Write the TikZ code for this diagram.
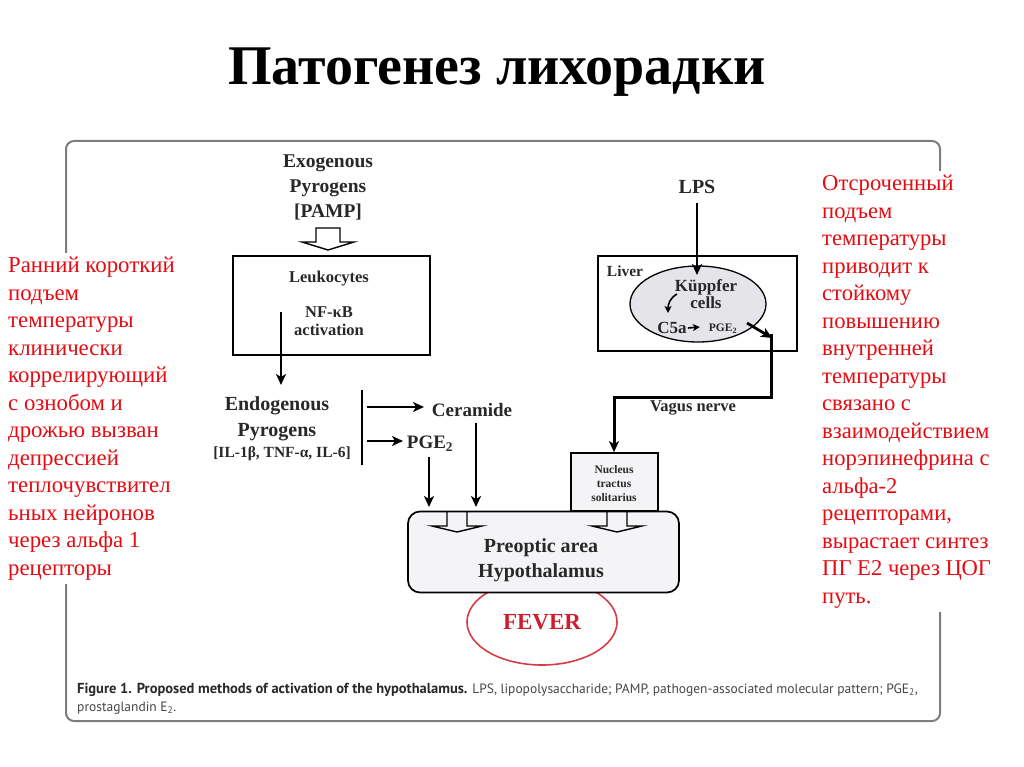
\documentclass[tikz,border=0pt]{standalone}
\usepackage{fontspec}
\setmainfont{Liberation Serif}
\newfontfamily\capfont{PT Sans}
\usetikzlibrary{arrows.meta,shapes.geometric}
\definecolor{ink}{RGB}{40,40,40}
\definecolor{redtxt}{RGB}{228,12,18}
\definecolor{fevred}{RGB}{205,30,45}
\definecolor{fevline}{RGB}{215,60,70}
\definecolor{framegray}{RGB}{125,125,125}
\definecolor{boxfill}{RGB}{244,244,247}
\definecolor{kupfill}{RGB}{228,228,233}
\definecolor{capgray}{RGB}{70,70,70}
\begin{document}
\begin{tikzpicture}[x=1pt,y=-1pt,
  txt/.style={inner sep=0pt,text=ink,align=center},
  arr/.style={draw=black,line width=2.8pt,-{Stealth[length=11pt,width=10pt,inset=3pt]}},
  thinarr/.style={draw=black,line width=1.6pt,-{Stealth[length=7pt,width=7pt,inset=2pt]}},
  boxline/.style={draw=black,line width=1.7pt,inner sep=0pt},
  hollow/.style={draw=black,line width=1.4pt,line join=miter},
  redblock/.style={anchor=north west,inner sep=4pt,align=left,text=redtxt,fill=white}]
\useasboundingbox (0,0) rectangle (1024,767);
% title
\node[inner sep=0pt,anchor=base,font=\bfseries\fontsize{56}{60}\selectfont] (title) at (497,85) {Патогенез лихорадки};
% frame
\draw[draw=framegray,line width=2pt,rounded corners=8pt] (66,141) rectangle (940,721);
% exogenous
\node[txt,font=\bfseries\fontsize{19.5}{25}\selectfont] (exo) at (328,187) {Exogenous\\Pyrogens\\{[PAMP]}};
\draw[hollow] (316,228) -- (316,242) -- (302,242) -- (328,250) -- (354,242) -- (340,242) -- (340,228) -- cycle;
% leukocytes
\node[boxline,minimum width=197pt,minimum height=99pt] (leukbox) at (331.5,305.5) {};
\node[txt,font=\bfseries\fontsize{16.5}{20}\selectfont] (leuk) at (329,279) {Leukocytes};
\node[txt,font=\bfseries\fontsize{16.5}{18}\selectfont] (nfkb) at (329,321) {NF-κB\\activation};
\coordinate (leukout) at (281,312);
\coordinate (endoin) at (281,385);
\draw[arr] (leukout) -- (endoin);
% endogenous
\node[txt,font=\bfseries\fontsize{20}{26}\selectfont] (endo) at (277,419) {Endogenous\\Pyrogens};
\node[txt,font=\bfseries\fontsize{15.5}{18}\selectfont] (endolist) at (282,454) {[IL-1β, TNF-α, IL-6]};
\coordinate (bartop) at (362,390);
\coordinate (barbot) at (362,465);
\draw[line width=2.2pt] (bartop) -- (barbot);
\node[txt,font=\bfseries\fontsize{19}{22}\selectfont] (cer) at (472,410) {Ceramide};
\node[txt,font=\bfseries\fontsize{19}{22}\selectfont] (pge) at (430,444) {PGE\textsubscript{2}};
\coordinate (b1) at (367,407);
\coordinate (b2) at (367,441);
\draw[arr] (b1) -- (424,407);
\draw[arr] (b2) -- (403,441);
% preoptic area
\node[fevline,draw,line width=1.6pt,ellipse,minimum width=150pt,minimum height=86pt,text=fevred,font=\bfseries\fontsize{23}{26}\selectfont] (fever) at (542,622) {FEVER};
\node[draw=black,line width=1.7pt,fill=boxfill,rounded corners=12pt,minimum width=271pt,minimum height=81pt,inner sep=0pt] (poa) at (543.5,552) {};
\node[txt,font=\bfseries\fontsize{20}{25}\selectfont] (poatxt) at (541,560.5) {Preoptic area\\Hypothalamus};
\coordinate (cerdown) at (476,423);
\coordinate (pgedown) at (429,457);
\draw[arr] (cerdown) -- (476,507);
\draw[arr] (pgedown) -- (429,507);
\draw[hollow] (447,512) -- (447,526) -- (432,526) -- (457,532) -- (482,526) -- (467,526) -- (467,512);
\draw[hollow] (607,512) -- (607,526) -- (592,526) -- (617,532) -- (642,526) -- (627,526) -- (627,512);
% NTS
\node[boxline,fill=boxfill,minimum width=87pt,minimum height=58pt] (nts) at (614.5,482) {};
\node[txt,font=\bfseries\fontsize{11.5}{14}\selectfont] (ntstxt) at (614,484) {Nucleus\\tractus\\solitarius};
% liver
\node[boxline,minimum width=199pt,minimum height=95pt] (liver) at (697.5,303.5) {};
\node[ellipse,draw=black,line width=1.3pt,fill=kupfill,minimum width=136pt,minimum height=76pt,inner sep=0pt] (kup) at (698,304) {};
\node[txt,font=\bfseries\fontsize{15.5}{18}\selectfont] (livertxt) at (625,271) {Liver};
\node[txt,font=\bfseries\fontsize{17}{17}\selectfont] (kuptxt) at (706,294.5) {Küppfer\\cells};
\node[txt,font=\bfseries\fontsize{17}{20}\selectfont] (c5a) at (672,328) {C5a};
\node[txt,font=\bfseries\fontsize{11.5}{14}\selectfont] (pgel) at (723,329) {PGE\textsubscript{2}};
\node[txt,font=\bfseries\fontsize{20}{24}\selectfont] (lps) at (697,187) {LPS};
\coordinate (lpsin) at (697,275);
\draw[arr] ([yshift=-9pt]lps.south) -- (lpsin);
\draw[thinarr] (677,294) .. controls (670,298) and (668,304) .. (668,313);
\draw[thinarr] ([xshift=1pt]c5a.east) -- ++(12,-1);
\coordinate (pgeout) at (747,323);
\coordinate (vagtop) at (772,338);
\draw[arr] (pgeout) -- (vagtop);
\draw[draw=black,line width=3pt,-{Stealth[length=11pt,width=10pt,inset=3pt]}] (771,334) -- (771,397) -- (614,397) -- (nts.north -| 614,0);
\node[txt,font=\bfseries\fontsize{16.5}{20}\selectfont] (vagus) at (693,408) {Vagus nerve};
% caption
\node[anchor=west,inner sep=0pt,text=capgray,font=\capfont\fontsize{13.5}{16}\selectfont] (cap1) at (77,690) {{\fontsize{14.5}{16}\selectfont\bfseries\color{ink}Figure 1. Proposed methods of activation of the hypothalamus.} LPS, lipopolysaccharide; PAMP, pathogen-associated molecular pattern; PGE\textsubscript{2},};
\node[anchor=west,inner sep=0pt,text=capgray,font=\capfont\fontsize{13.5}{16}\selectfont] (cap2) at (77,708) {prostaglandin E\textsubscript{2}.};
% red notes
\node[redblock,font=\fontsize{22.8}{27.5}\selectfont] (lefttxt) at (4,253) {Ранний короткий\\подъем\\температуры\\клинически\\коррелирующий\\с ознобом и\\дрожью вызван\\депрессией\\теплочувствител\\ьных нейронов\\через альфа 1\\рецепторы};
\node[redblock,font=\fontsize{22.6}{27.5}\selectfont] (righttxt) at (818,171) {Отсроченный\\подъем\\температуры\\приводит к\\стойкому\\повышению\\внутренней\\температуры\\связано с\\взаимодействием\\норэпинефрина с\\альфа-2\\рецепторами,\\вырастает синтез\\ПГ Е2 через ЦОГ\\путь.};
\end{tikzpicture}
\end{document}
